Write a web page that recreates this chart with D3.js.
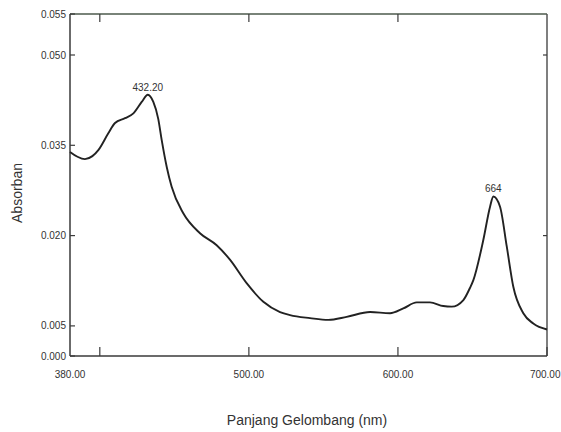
<!DOCTYPE html>
<html>
<head>
<meta charset="utf-8">
<script src="https://cdn.jsdelivr.net/npm/d3@7/dist/d3.min.js"></script>
<style>
  html, body { margin: 0; padding: 0; background: #fff; }
  svg { display: block; font-family: "Liberation Sans", Arial, sans-serif; }
</style>
</head>
<body>
<svg id="chart" width="561" height="432"></svg>
<script>
// Absorption spectrum (wavelength in nm, absorbance)
const wavelength = [380, 385, 390, 395, 399, 405.7, 410.2, 416.9, 422.5, 428.1, 432.2, 435.9,
  439.2, 441.5, 444.9, 448.2, 456, 467.2, 478.4, 487.3, 498.5, 509.7, 520.9, 527.6, 541,
  553.3, 565.6, 581.3, 594.7, 603.6, 612.6, 621.5, 630.4, 636.1, 643.9, 648.3, 650.6,
  657.3, 661.8, 664, 668.5, 673, 677.4, 684.1, 690.8, 700];
const absorbance = [0.0339, 0.0331, 0.0327, 0.0332, 0.0342, 0.0370, 0.0387, 0.0395, 0.0403,
  0.0422, 0.0434, 0.0422, 0.0394, 0.0359, 0.0314, 0.0281, 0.0237, 0.0204, 0.0184, 0.0160,
  0.0121, 0.0090, 0.0073, 0.0068, 0.0063, 0.0060, 0.0065, 0.0073, 0.0071, 0.0079, 0.0089,
  0.0089, 0.0083, 0.0082, 0.0093, 0.0113, 0.0126, 0.0193, 0.0248, 0.0265, 0.0248, 0.0182,
  0.0115, 0.0071, 0.0054, 0.0044];

// Labelled peaks
const peakWavelengths = [432.2, 664];
const peakLabels = ["432.20", "664"];

// Axis ticks and labels
const xTickValues = [400, 500, 600, 700];
const xLabelValues = [380, 500, 600, 700];
const xLabels = ["380.00", "500.00", "600.00", "700.00"];
const xTopTicks = [400, 500, 600];
const yTickValues = [0, 0.005, 0.020, 0.035, 0.050, 0.055];
const yLabels = ["0.000", "0.005", "0.020", "0.035", "0.050", "0.055"];
const yRightTicks = [0.050, 0.020];

const width = 561;
const plotLeft = 70, plotRight = 547, plotTop = 14, plotBottom = 356;
const axisColor = "#3a3a3a";

const svg = d3.select("#chart");

const x = d3.scaleLinear().domain([380, 700]).range([plotLeft, plotRight]);
const y = d3.scaleLinear().domain([0, 0.050, 0.055]).range([plotBottom, 55, plotTop]);

// Frame
const frame = svg.append("g").attr("fill", "none").attr("stroke-width", 1.5);
frame.append("line").attr("x1", plotLeft).attr("x2", plotRight).attr("y1", plotTop).attr("y2", plotTop)
  .attr("stroke", "#4d5a4d");
frame.append("line").attr("x1", plotRight).attr("x2", plotRight).attr("y1", plotTop).attr("y2", plotBottom)
  .attr("stroke", "#555");
frame.append("line").attr("x1", plotLeft).attr("x2", plotLeft).attr("y1", plotTop).attr("y2", plotBottom)
  .attr("stroke", axisColor);
frame.append("line").attr("x1", plotLeft).attr("x2", plotRight).attr("y1", plotBottom).attr("y2", plotBottom)
  .attr("stroke", axisColor);

// Tick marks (pointing inside the frame)
const ticks = svg.append("g").attr("stroke", axisColor).attr("stroke-width", 1.2);
ticks.append("g").selectAll("line").data(xTickValues).join("line")
  .attr("x1", d => x(d)).attr("x2", d => x(d))
  .attr("y1", plotBottom).attr("y2", plotBottom - 9);
ticks.append("g").selectAll("line").data(xTopTicks).join("line")
  .attr("x1", d => x(d)).attr("x2", d => x(d))
  .attr("y1", plotTop).attr("y2", plotTop + 8);
ticks.append("g").selectAll("line").data(yTickValues).join("line")
  .attr("x1", plotLeft).attr("x2", plotLeft + 5)
  .attr("y1", d => y(d)).attr("y2", d => y(d));
ticks.append("g").selectAll("line").data(yRightTicks).join("line")
  .attr("x1", plotRight).attr("x2", plotRight - 4)
  .attr("y1", d => y(d)).attr("y2", d => y(d));

// Tick labels
svg.append("g").attr("font-size", 10).attr("fill", "#333").attr("text-anchor", "end")
  .selectAll("text").data(yTickValues).join("text")
  .attr("x", plotLeft - 4).attr("y", d => y(d)).attr("dy", "0.35em")
  .text((d, i) => yLabels[i]);

// x labels centred on their value, kept inside the page edge
svg.append("g").attr("font-size", 10).attr("fill", "#333").attr("text-anchor", "middle")
  .selectAll("text").data(xLabelValues).join("text")
  .attr("y", plotBottom + 22)
  .text((d, i) => xLabels[i])
  .attr("x", function (d) {
    const half = this.getComputedTextLength() / 2;
    return Math.min(x(d), width - half - 0.5);
  });

// Spectrum
const pts = wavelength.map((w, i) => [w, absorbance[i]]);
svg.append("path")
  .datum(pts)
  .attr("fill", "none")
  .attr("stroke", "#222")
  .attr("stroke-width", 1.9)
  .attr("stroke-linejoin", "round")
  .attr("d", d3.line().x(d => x(d[0])).y(d => y(d[1])).curve(d3.curveMonotoneX));

// Peak labels
svg.append("g").attr("font-size", 10).attr("fill", "#333").attr("text-anchor", "middle")
  .selectAll("text").data(peakWavelengths).join("text")
  .attr("x", d => x(d))
  .attr("y", d => y(absorbance[wavelength.indexOf(d)]) - 4)
  .text((d, i) => peakLabels[i]);

// Axis titles
svg.append("text")
  .attr("x", 307).attr("y", 425)
  .attr("text-anchor", "middle").attr("font-size", 14).attr("fill", "#333")
  .text("Panjang Gelombang (nm)");

svg.append("text")
  .attr("transform", "translate(22,193) rotate(-90)")
  .attr("text-anchor", "middle").attr("font-size", 14).attr("fill", "#333")
  .text("Absorban");
</script>
</body>
</html>
